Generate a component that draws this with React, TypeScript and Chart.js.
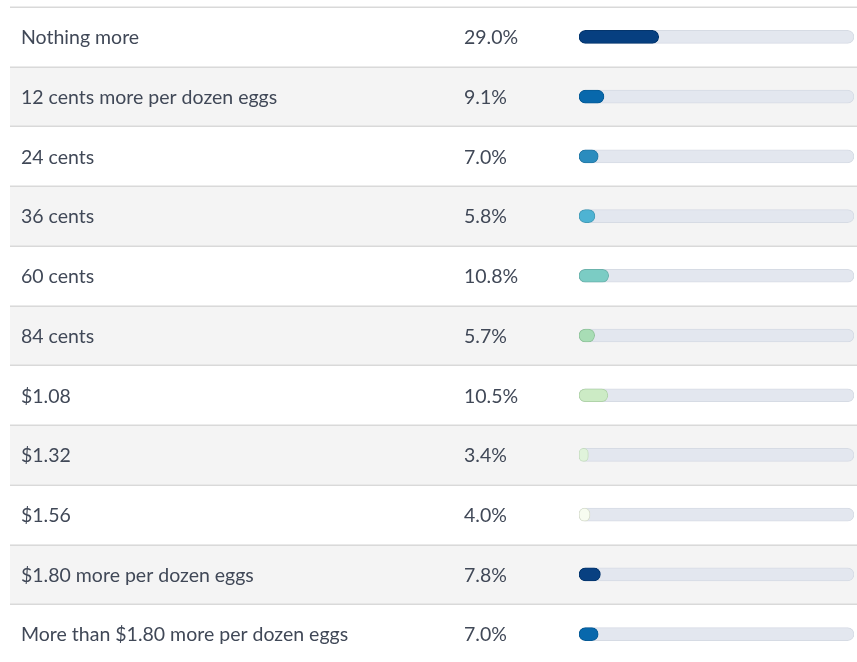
import React, { useEffect, useRef } from "react";
import { Chart, registerables } from "chart.js";

Chart.register(...registerables);

const categories = [
  "Nothing more",
  "12 cents more per dozen eggs",
  "24 cents",
  "36 cents",
  "60 cents",
  "84 cents",
  "$1.08",
  "$1.32",
  "$1.56",
  "$1.80 more per dozen eggs",
  "More than $1.80 more per dozen eggs",
];

const percents = [29.0, 9.1, 7.0, 5.8, 10.8, 5.7, 10.5, 3.4, 4.0, 7.8, 7.0];

const barColors = [
  "#063f80",
  "#0868ac",
  "#2b8cbe",
  "#4eb3d3",
  "#7bccc4",
  "#a8ddb5",
  "#ccebc5",
  "#e0f3db",
  "#f7fcf0",
  "#084081",
  "#0868ac",
];

const barBorders = [
  "#04356c",
  "#075b96",
  "#2579a6",
  "#449cb8",
  "#6bb3ac",
  "#90c49c",
  "#b0d3a9",
  "#c4dcbf",
  "#d6dccd",
  "#04356c",
  "#075b96",
];

const trackMax = 100;

const tablePlugin = {
  id: "tableRows",
  beforeDatasetsDraw(chart: any) {
    const { ctx, scales } = chart;
    const y = scales.y;
    const n = categories.length;
    const pitch = n > 1 ? y.getPixelForValue(1) - y.getPixelForValue(0) : 60;
    const left = 10;
    const right = chart.width;
    ctx.save();
    for (let i = 0; i < n; i++) {
      const c = y.getPixelForValue(i);
      const top = c - pitch / 2;
      ctx.fillStyle = i % 2 === 1 ? "#f4f4f4" : "#ffffff";
      ctx.fillRect(left, top, right - left, pitch);
    }
    ctx.strokeStyle = "#d9d9d9";
    ctx.lineWidth = 1.5;
    for (let i = 0; i < n; i++) {
      const c = y.getPixelForValue(i);
      const top = Math.round(c - pitch / 2) + 0.25;
      ctx.beginPath();
      ctx.moveTo(left, top);
      ctx.lineTo(right, top);
      ctx.stroke();
    }
    ctx.fillStyle = "#404857";
    ctx.font = "19.5px Lato, 'Noto Sans', sans-serif";
    ctx.textBaseline = "middle";
    ctx.textAlign = "left";
    for (let i = 0; i < n; i++) {
      const c = y.getPixelForValue(i);
      ctx.fillText(categories[i], 21, c + 1);
      ctx.fillText(percents[i].toFixed(1) + "%", 464, c + 1);
    }
    ctx.restore();
  },
};

export default function App() {
  const ref = useRef<HTMLCanvasElement>(null);
  useEffect(() => {
    if (!ref.current) return;
    const chart = new Chart(ref.current, {
      type: "bar",
      data: {
        labels: categories,
        datasets: [
          {
            data: percents,
            backgroundColor: barColors,
            borderColor: barBorders,
            borderWidth: 1,
            borderRadius: 7,
            borderSkipped: false,
            barThickness: 13,
            grouped: false,
            order: 0,
          },
          {
            data: categories.map(() => trackMax),
            backgroundColor: "#e3e7ef",
            borderColor: "#d6dbe4",
            borderWidth: 1,
            borderRadius: 7,
            borderSkipped: false,
            barThickness: 13,
            grouped: false,
            order: 1,
          },
        ],
      },
      options: {
        indexAxis: "y",
        responsive: false,
        animation: false,
        devicePixelRatio: 1,
        layout: { padding: { left: 579, right: 3, top: 7, bottom: 4 } },
        scales: {
          x: { display: false, min: 0, max: trackMax },
          y: { display: false },
        },
        plugins: {
          legend: { display: false },
          tooltip: { enabled: false },
        },
      },
      plugins: [tablePlugin],
    });
    return () => chart.destroy();
  }, []);
  return (
    <div
      style={{
        position: "fixed",
        left: 0,
        top: 0,
        width: 857,
        height: 662,
        overflow: "hidden",
        background: "#ffffff",
      }}
    >
      <canvas ref={ref} width={857} height={668} style={{ width: 857, height: 668, display: "block" }} />
    </div>
  );
}
